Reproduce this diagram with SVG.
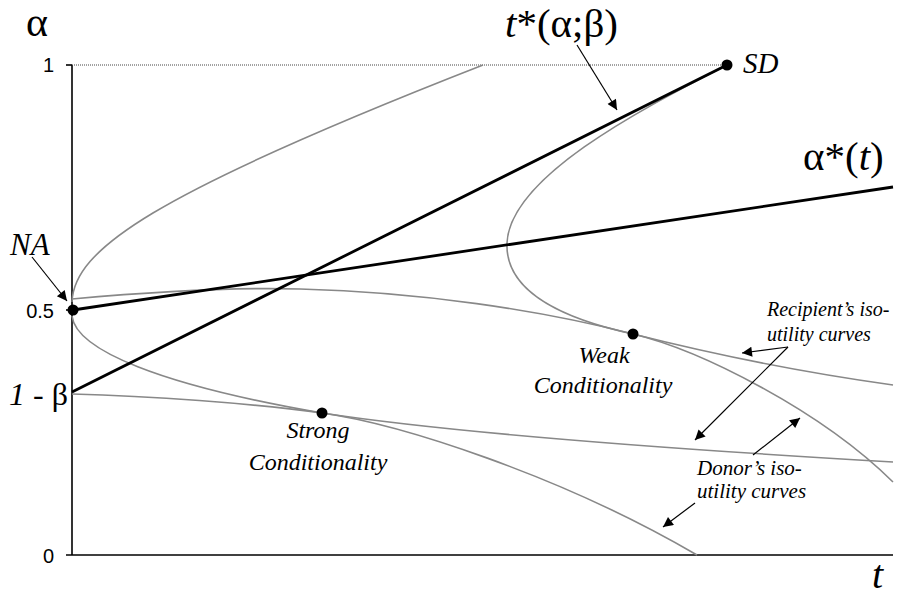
<svg xmlns="http://www.w3.org/2000/svg" width="899" height="598" viewBox="0 0 899 598">
<style>
.ax{stroke:#000;stroke-width:1.6;fill:none}
.cv{stroke:#888;stroke-width:1.6;fill:none}
.bl{stroke:#000;stroke-width:2.8;fill:none}
.ar{stroke:#000;stroke-width:1.2;fill:none;marker-end:url(#ah)}
.num{font-family:'Liberation Sans',Arial,sans-serif;font-size:20px;fill:#000}
text.s{font-family:'Liberation Serif',Tinos,'Times New Roman','DejaVu Serif','Noto Serif',serif;fill:#000}
.it{font-style:italic}
.dot{fill:#000}
</style>
<defs>
<marker id="ah" viewBox="0 0 10 10" refX="10" refY="5" markerWidth="12" markerHeight="10" markerUnits="userSpaceOnUse" orient="auto">
<path d="M0,0 L10,5 L0,10 z" fill="#000"/>
</marker>
</defs>
<rect width="899" height="598" fill="#fff"/>
<g id="axes">
<line class="ax" x1="72" y1="65" x2="72" y2="555"/>
<line class="ax" x1="66" y1="555" x2="893" y2="555"/>
<line class="ax" x1="66" y1="65" x2="72" y2="65"/>
<line class="ax" x1="66" y1="310" x2="72" y2="310"/>
<line x1="72" y1="65" x2="724" y2="65" stroke="#444" stroke-width="1" stroke-dasharray="1,1"/>
<text class="num" x="54" y="72" text-anchor="end">1</text>
<text class="num" x="54" y="318" text-anchor="end">0.5</text>
<text class="num" x="54" y="563" text-anchor="end">0</text>
<text class="s" x="68" y="405" font-size="32" text-anchor="end"><tspan class="it">1</tspan> - β</text>
<text class="s" x="26" y="36" font-size="42">α</text>
<text class="s it" x="872" y="588" font-size="40">t</text>
</g>
<g id="curves">
<path class="cv" d="M72,302 C74,250 150,195 483,65"/>
<path class="cv" d="M72,316 C76,350 160,385 322,413 C420,428 600,445 893,462"/>
<path class="cv" d="M72,394 C150,396 250,403 322,413 C400,424 560,475 697,555"/>
<path class="cv" d="M72,299 C150,292 230,287 300,289 C420,292 540,310 633,334 C720,356 800,372 893,385"/>
<path class="cv" d="M727,65 C650,105 510,175 507,243 C505,290 560,318 633,334 C700,350 820,410 893,482"/>
</g>
<g id="lines">
<line class="bl" x1="72" y1="392" x2="727" y2="65"/>
<line class="bl" x1="73" y1="310" x2="893" y2="187"/>
</g>
<g id="connectors">
<line class="ar" x1="577" y1="45" x2="617" y2="110"/>
<line class="ar" x1="32" y1="257" x2="67" y2="301"/>
<line class="ar" x1="788" y1="347" x2="742" y2="353"/>
<line class="ar" x1="788" y1="347" x2="695" y2="440"/>
<line class="ar" x1="753" y1="455" x2="800" y2="418"/>
<line class="ar" x1="695" y1="503" x2="663" y2="527"/>
</g>
<g id="node-NA">
<circle class="dot" cx="73" cy="310" r="5.5"/>
<text class="s it" x="10" y="255" font-size="31">NA</text>
</g>
<g id="node-SD">
<circle class="dot" cx="727" cy="65" r="5.5"/>
<text class="s it" x="743" y="73" font-size="29">SD</text>
</g>
<g id="node-weak">
<circle class="dot" cx="633" cy="334" r="5.5"/>
<text class="s it" x="604" y="363" font-size="24" text-anchor="middle">Weak</text>
<text class="s it" x="603" y="393" font-size="24" text-anchor="middle">Conditionality</text>
</g>
<g id="node-strong">
<circle class="dot" cx="322" cy="413" r="5.5"/>
<text class="s it" x="318" y="438" font-size="24" text-anchor="middle">Strong</text>
<text class="s it" x="318" y="470" font-size="24" text-anchor="middle">Conditionality</text>
</g>
<g id="label-tstar">
<text class="s" x="505" y="37" font-size="41"><tspan class="it">t</tspan>*(α;β)</text>
</g>
<g id="label-astar">
<text class="s" x="803" y="170" font-size="41">α*(<tspan class="it">t</tspan>)</text>
</g>
<g id="label-recipient">
<text class="s it" x="767" y="316" font-size="20">Recipient’s iso-</text>
<text class="s it" x="767" y="341" font-size="20">utility curves</text>
</g>
<g id="label-donor">
<text class="s it" x="697" y="475" font-size="21">Donor’s iso-</text>
<text class="s it" x="697" y="498" font-size="21">utility curves</text>
</g>
</svg>
